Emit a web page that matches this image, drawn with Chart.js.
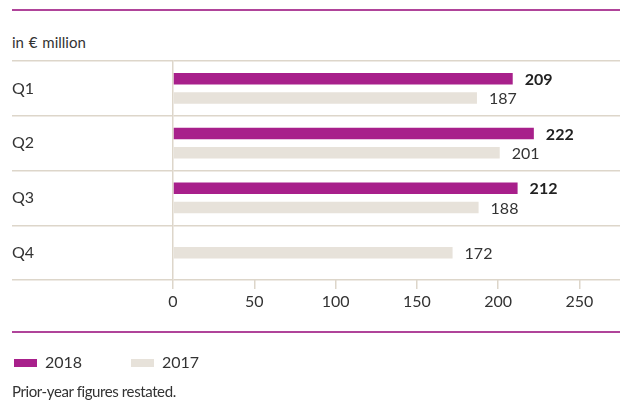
<!DOCTYPE html>
<html>
<head>
<meta charset="utf-8">
<script src="https://cdn.jsdelivr.net/npm/chart.js@4/dist/chart.umd.min.js"></script>
<style>
  html, body { margin: 0; padding: 0; background: #fff; }
  body { width: 620px; height: 401px; position: relative; overflow: hidden; font-family: Lato, "Open Sans", sans-serif; color: #333; }
  #wrap { position: absolute; left: 0; top: 0; width: 620px; height: 401px; }
  .rule { position: absolute; left: 12px; right: 0; height: 2px; background: #b0449a; }
  .txt { position: absolute; left: 12px; font-size: 15px; line-height: 18px; white-space: nowrap; }
  .leg { position: absolute; top: 353px; font-size: 16px; line-height: 18px; }
  .sw { position: absolute; top: 359px; width: 23px; height: 8px; }
</style>
</head>
<body>
<div class="rule" style="top:9px"></div>
<div class="txt" style="top:33px;word-spacing:1px">in € million</div>
<div id="wrap"><canvas id="c" width="620" height="401"></canvas></div>
<div class="rule" style="top:331px"></div>
<div class="sw" style="left:14px;background:#a8208b"></div>
<div class="leg" id="l1" style="left:45px"></div>
<div class="sw" style="left:131px;background:#e7e2da"></div>
<div class="leg" id="l2" style="left:162px"></div>
<div class="txt" style="top:382px;letter-spacing:-0.4px">Prior-year figures restated.</div>
<script>
const categories = ['Q1', 'Q2', 'Q3', 'Q4'];
const seriesNames = ['2018', '2017'];
const values2018 = [209, 222, 212, null];
const values2017 = [187, 201, 188, 172];
const tickValues = [0, 50, 100, 150, 200, 250];

document.getElementById('l1').textContent = seriesNames[0];
document.getElementById('l2').textContent = seriesNames[1];

const MAGENTA = '#a8208b';
const GREYBAR = '#e7e2da';
const LINE = '#ddd6ca';
const TEXT = '#333333';
const FONT = 'Lato, "Open Sans", sans-serif';

const valueLabels = {
  id: 'valueLabels',
  afterDatasetsDraw(chart) {
    const ctx = chart.ctx;
    ctx.save();
    chart.data.datasets.forEach((ds, di) => {
      const meta = chart.getDatasetMeta(di);
      meta.data.forEach((el, i) => {
        const v = ds.data[i];
        if (v === null || v === undefined) return;
        ctx.font = (di === 0 ? 'bold ' : '') + '16px ' + FONT;
        ctx.fillStyle = di === 0 ? '#222' : TEXT;
        ctx.textAlign = 'left';
        ctx.textBaseline = 'middle';
        ctx.fillText(String(v), el.x + 12, el.y + 1);
      });
    });
    ctx.restore();
  }
};

new Chart(document.getElementById('c'), {
  type: 'bar',
  data: {
    labels: categories,
    datasets: [
      { label: seriesNames[0], data: values2018, backgroundColor: MAGENTA, skipNull: true,
        categoryPercentage: 0.7, barPercentage: 0.6, maxBarThickness: 11.5 },
      { label: seriesNames[1], data: values2017, backgroundColor: GREYBAR, skipNull: true,
        categoryPercentage: 0.7, barPercentage: 0.6, maxBarThickness: 11.5 }
    ]
  },
  options: {
    indexAxis: 'y',
    responsive: false,
    animation: false,
    events: [],
    layout: { padding: { top: 61, left: 12, right: 0, bottom: 81 } },
    plugins: { legend: { display: false }, tooltip: { enabled: false } },
    scales: {
      x: {
        min: 0, max: 275,
        afterBuildTicks(scale) { scale.ticks = tickValues.map(v => ({ value: v })); },
        afterFit(scale) { scale.height = 40; },
        border: { display: false },
        grid: { drawOnChartArea: false, drawTicks: true, tickLength: 9, color: LINE, lineWidth: 1.5 },
        ticks: { color: TEXT, font: { family: FONT, size: 16 }, padding: 3, maxRotation: 0 }
      },
      y: {
        afterFit(scale) { scale.width = 161; },
        border: { display: true, color: LINE, width: 1.5 },
        grid: { offset: true, drawTicks: true, tickLength: 161, color: LINE, lineWidth: 1.5 },
        ticks: { color: TEXT, font: { family: FONT, size: 16 }, crossAlign: 'far', padding: 0 }
      }
    }
  },
  plugins: [valueLabels]
});
</script>
</body>
</html>
